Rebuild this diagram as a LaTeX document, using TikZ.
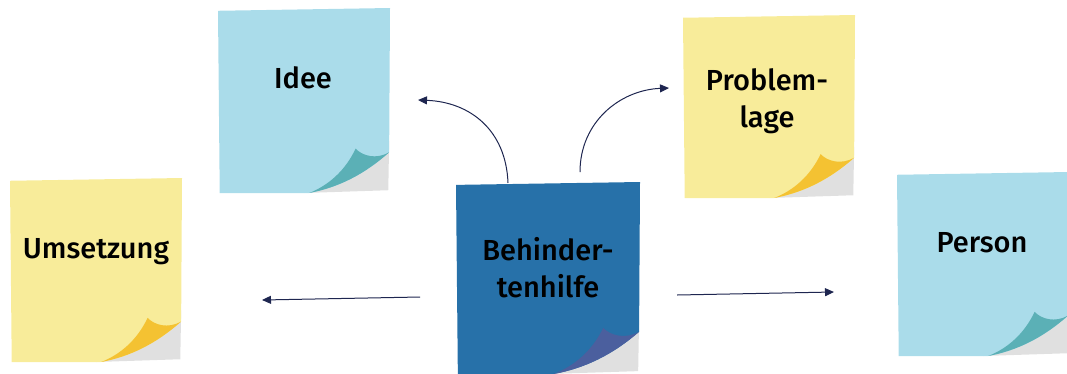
\documentclass[tikz,border=0pt]{standalone}
\usepackage{fontspec}
\setmainfont{Fira Sans}
\newfontfamily\notefont{Fira Sans Medium}
\usetikzlibrary{arrows.meta}
\definecolor{lblue}{HTML}{AADCEA}
\definecolor{lyellow}{HTML}{F8EC9A}
\definecolor{dblue}{HTML}{2771A9}
\definecolor{tealc}{HTML}{5BB0B6}
\definecolor{yellc}{HTML}{F4C232}
\definecolor{dbluec}{HTML}{4B5F9E}
\definecolor{shad}{HTML}{E0E0E0}
\definecolor{navy}{HTML}{1E2650}
\tikzset{
  notetext/.style={font=\notefont\fontsize{29}{37}\selectfont, align=center, text=black},
  conn/.style={draw=navy, line width=1pt, -{Triangle[length=9pt,width=8pt]}}
}
\newcommand\stickynote[6]{%
  \begin{scope}[shift={(#1,#2)}, x=#3pt, y=-#4pt]
    \fill[shad] (0.5,1.0) -- (0.99,0.985) -- (0.995,0.72) -- cycle;
    \fill[#5] (0,0.015) -- (1,0) -- (0.995,0.78) .. controls (0.85,0.9) and (0.7,0.97) .. (0.53,1) -- (0.01,1) -- cycle;
    \fill[#6] (0.53,1) .. controls (0.7,0.97) and (0.85,0.9) .. (0.995,0.78) .. controls (0.92,0.82) and (0.84,0.8) .. (0.8,0.76) .. controls (0.74,0.88) and (0.64,0.96) .. (0.53,1) -- cycle;
  \end{scope}}
\begin{document}
\begin{tikzpicture}[x=1pt, y=-1pt]
\useasboundingbox (0,0) rectangle (1067,373);
\stickynote{218}{8}{172}{185}{lblue}{tealc}
\stickynote{683}{15}{172}{183}{lyellow}{yellc}
\stickynote{10}{178}{172}{184}{lyellow}{yellc}
\stickynote{456}{182}{184}{192}{dblue}{dbluec}
\stickynote{897}{172}{172}{184}{lblue}{tealc}
\node[notetext] (idee) at (303,78) {Idee};
\node[notetext] (prob) at (767,101) {Problem-\\lage};
\node[notetext] (ums) at (96,252) {Umsetzung};
\node[notetext] (beh) at (548,268) {Behinder-\\tenhilfe};
\node[notetext] (pers) at (982,243) {Person};
\coordinate (a1s) at (508,183);
\coordinate (a1e) at (418,100);
\coordinate (a2s) at (580,172);
\coordinate (a2e) at (669,88);
\coordinate (a3s) at (420,297);
\coordinate (a3e) at (262,300);
\coordinate (a4s) at (677,295);
\coordinate (a4e) at (834,292);
\draw[conn] (a1s) .. controls (506,130) and (470,102) .. (a1e);
\draw[conn] (a2s) .. controls (580,122) and (620,90) .. (a2e);
\draw[conn] (a3s) -- (a3e);
\draw[conn] (a4s) -- (a4e);
\end{tikzpicture}
\end{document}
